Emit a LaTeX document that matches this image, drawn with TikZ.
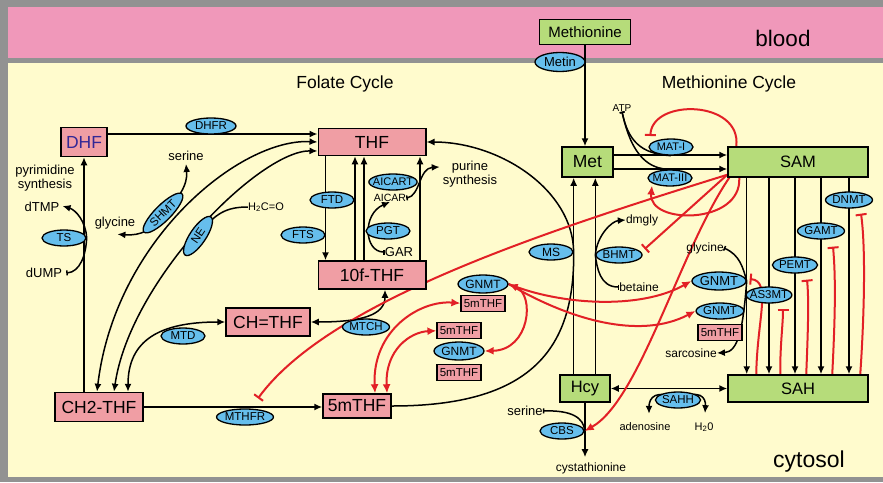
\documentclass[tikz,border=0pt]{standalone}
\usepackage{fontspec}
\setmainfont{Liberation Sans}
\usepackage{tikz}
\usetikzlibrary{positioning,shapes,arrows.meta,calc}
\definecolor{bloodpink}{RGB}{240,152,186}
\definecolor{cytoyellow}{RGB}{255,251,205}
\definecolor{framegray}{RGB}{146,146,146}
\definecolor{folpink}{RGB}{240,158,164}
\definecolor{metgreen}{RGB}{182,220,122}
\definecolor{enzblue}{RGB}{102,190,236}
\definecolor{inhred}{RGB}{226,32,38}
\definecolor{dhfblue}{RGB}{50,40,150}
\newcommand\fsz[1]{\fontsize{#1}{#1}\selectfont}
\pgfdeclarelayer{bg}
\pgfdeclarelayer{links}
\pgfsetlayers{bg,links,main}

\begin{document}
\begin{tikzpicture}[x=1pt,y=-1pt,
    folate/.style={rectangle,fill=folpink,draw=black,line width=1.5pt,font=\fsz{17.5},inner sep=0pt},
    methcyc/.style={rectangle,fill=metgreen,draw=black,line width=1.5pt,font=\fsz{16.5},inner sep=0pt},
    small5m/.style={rectangle,fill=folpink,draw=black,line width=1.2pt,font=\fsz{11.5},inner sep=0pt,minimum width=44pt,minimum height=16pt},
    enzyme/.style={ellipse,fill=enzblue,draw=black,line width=1.3pt,font=\fsz{11.5},inner xsep=0pt,inner ysep=1pt,minimum width=44pt,minimum height=16pt},
    metab/.style={font=\fsz{13},inner sep=0pt},
    heading/.style={font=\fsz{17.5},inner sep=0pt},
    arrow/.style={-{Latex[length=8pt,width=7pt]},line width=1.5pt},
    twoway/.style={{Latex[length=8pt,width=7pt]}-{Latex[length=8pt,width=7pt]},line width=1.5pt},
    feed/.style={{Bar[width=5pt]}-{Latex[length=8pt,width=7pt]},line width=1.5pt},
    feedline/.style={{Bar[width=5pt]}-,line width=1.5pt},
    redarrow/.style={-{Latex[length=9pt,width=8pt]},inhred,line width=2pt},
    redtwo/.style={{Latex[length=9pt,width=8pt]}-{Latex[length=9pt,width=8pt]},inhred,line width=2pt},
    inhibit/.style={-{Bar[width=11pt]},inhred,line width=2pt}
    ]
    \begin{pgfonlayer}{bg}
      \fill[framegray] (0,0) rectangle (883,482);
      \fill[bloodpink] (8,7) rectangle (883,58);
      \fill[cytoyellow] (8,63) rectangle (883,477);
    \end{pgfonlayer}
    \useasboundingbox (0,0) rectangle (883,482);

    \node[font=\fsz{22.5}] (blood) at (783,38) {blood};
    \node[heading] (folcycle) at (345,84) {Folate Cycle};
    \node[heading] (metcycle) at (729,84) {Methionine Cycle};
    \node[font=\fsz{23}] (cytosol) at (809,462) {cytosol};

    % folate cycle
    \node[folate,minimum width=46pt,minimum height=29pt,text=dhfblue] (dhf) at (84,142) {DHF};
    \node[folate,minimum width=107.5pt,minimum height=27pt] (thf) at (372,142) {THF};
    \node[folate,minimum width=107.5pt,minimum height=28pt] (tenf) at (372,275) {10f-THF};
    \node[folate,minimum width=84pt,minimum height=28pt] (chthf) at (268,322) {CH=THF};
    \node[folate,minimum width=88pt,minimum height=29pt] (chtwo) at (99,407) {CH2-THF};
    \node[folate,minimum width=68pt,minimum height=24pt] (fivem) at (357,406) {5mTHF};

    \node[metab,align=center] (pyrim) at (45,178) {pyrimidine\\[1pt]synthesis};
    \node[metab] (dtmp) at (42,207) {dTMP};
    \node[metab] (dump) at (44,273) {dUMP};
    \node[metab] (serA) at (186,156) {serine};
    \node[metab] (glyA) at (115,223) {glycine};
    \node[metab,font=\fsz{11}] (formald) at (266,207) {H\textsubscript{2}C=O};
    \node[metab,align=center] (purine) at (470,174) {purine\\[1pt]synthesis};
    \node[metab,font=\fsz{10.5}] (aicar) at (390,198) {AICAR};
    \node[metab] (gar) at (399,252) {GAR};

    \node[enzyme,minimum width=50pt] (dhfr) at (211,126) {DHFR};
    \node[enzyme] (ts) at (64,238) {TS};
    \node[enzyme,minimum width=54pt,rotate=45] (shmt) at (163,213) {SHMT};
    \node[enzyme,minimum width=46pt,rotate=56] (ne) at (198,236) {NE};
    \node[enzyme] (ftd) at (332,200) {FTD};
    \node[enzyme] (fts) at (303,235) {FTS};
    \node[enzyme,font=\fsz{11},inner xsep=-3pt] (aicart) at (393,182) {AICART};
    \node[enzyme] (pgt) at (388,231) {PGT};
    \node[enzyme] (mtd) at (183,336) {MTD};
    \node[enzyme] (mtch) at (366,327) {MTCH};
    \node[enzyme] (mthfr) at (245,417) {MTHFR};

    \node[enzyme,minimum height=18pt,font=\fsz{12}] (gnmtA) at (483,284) {GNMT};
    \node[small5m,below=1pt of gnmtA] (fivemA) {5mTHF};
    \node[enzyme,minimum height=18pt,font=\fsz{12}] (gnmtB) at (459,351) {GNMT};
    \node[small5m,above=2pt of gnmtB] (fivemB) {5mTHF};
    \node[small5m,below=3pt of gnmtB] (fivemC) {5mTHF};

    % methionine cycle
    \node[methcyc,font=\fsz{15},minimum width=91pt,minimum height=25pt] (methionine) at (585,32) {Methionine};
    \node[enzyme,font=\fsz{13},minimum width=50pt,minimum height=19pt] (metin) at (560,62) {Metin};
    \node[methcyc,font=\fsz{17.5},minimum width=51pt,minimum height=30pt] (met) at (587.5,162) {Met};
    \node[methcyc,minimum width=140pt,minimum height=30pt] (sam) at (798,162) {SAM};
    \node[methcyc,minimum width=50pt,minimum height=27pt] (hcy) at (585,388.5) {Hcy};
    \node[methcyc,minimum width=140pt,minimum height=27pt] (sah) at (798,388.5) {SAH};

    \node[metab,font=\fsz{10}] (atp) at (622,108) {ATP};
    \node[enzyme,font=\fsz{11}] (matone) at (671,147) {MAT-I};
    \node[enzyme,font=\fsz{11},inner xsep=-2pt] (matthree) at (670,178) {MAT-III};
    \node[enzyme,font=\fsz{12}] (ms) at (551,252) {MS};
    \node[enzyme] (bhmt) at (619,255) {BHMT};
    \node[metab,font=\fsz{12}] (dmgly) at (642,220) {dmgly};
    \node[metab,font=\fsz{12}] (betaine) at (639,287) {betaine};
    \node[metab,font=\fsz{12}] (glyB) at (705,248) {glycine};
    \node[enzyme,font=\fsz{13},minimum width=48pt,minimum height=18pt] (gnmtR) at (719,281) {GNMT};
    \node[enzyme] (gnmtS) at (720,311) {GNMT};
    \node[small5m,below=4pt of gnmtS] (fivemD) {5mTHF};
    \node[metab,font=\fsz{12}] (sarcosine) at (691,353) {sarcosine};
    \node[enzyme,inner xsep=-3pt] (as3mt) at (769,295) {AS3MT};
    \node[enzyme] (pemt) at (795,265) {PEMT};
    \node[enzyme] (gamt) at (821,231) {GAMT};
    \node[enzyme] (dnmt) at (849,200) {DNMT};
    \node[enzyme] (sahh) at (678,400) {SAHH};
    \node[metab,font=\fsz{11}] (adenosine) at (645,427) {adenosine};
    \node[metab,font=\fsz{11}] (water) at (704,427) {H\textsubscript{2}0};
    \node[enzyme] (cbs) at (562,431) {CBS};
    \node[metab] (serB) at (525,411) {serine};
    \node[metab,font=\fsz{12}] (cystath) at (591,468) {cystathionine};

    \begin{pgfonlayer}{links}
    \draw[arrow] ($(dhf.east)+(0,-8)$) -- ($(thf.west)+(0,-8)$);
    \draw[arrow] (chtwo.north -| dhf.south) -- (dhf.south);
    \draw[feed] ($(dump.east)+(4,0)$) .. controls (80,272) and (86,255) .. (ts.east) .. controls (86,222) and (76,210) .. ($(dtmp.east)+(3,-1)$);

    \draw[twoway] (thf.west) .. controls (240,138) and (115,240) .. ($(chtwo.north)+(-2,0)$);
    \draw[twoway] ($(thf.west)+(0,9)$) .. controls (260,150) and (130,280) .. ($(chtwo.north)+(15,0)$);
    \draw[arrow] (shmt.center) .. controls (178,200) and (188,185) .. ($(serA.south)+(0,3)$);
    \draw[arrow] (shmt.center) .. controls (155,230) and (140,236) .. ($(glyA.south east)+(-18,5)$);
    \draw[line width=1.5pt] (formald.west) .. controls (228,207) and (215,212) .. (ne.center);

    \draw[arrow] ($(thf.south west)+(8,0)$) -- ($(tenf.north west)+(8,0)$);
    \draw[arrow] ($(tenf.north west)+(37.5,0)$) -- ($(thf.south west)+(37.5,0)$);
    \draw[arrow] ($(tenf.north west)+(46.5,0)$) -- ($(thf.south west)+(46.5,0)$);
    \draw[arrow] ($(tenf.north east)+(-6.5,0)$) -- ($(thf.south east)+(-6.5,0)$);
    \draw[feed] (gar.west) .. controls (364,252) and (362,214) .. (aicar.south);
    \draw[feed] (aicar.east) .. controls (420,196) and (419,168) .. ($(purine.west)+(-3,-7)$);

    \draw[twoway] ($(chtwo.north)+(29,0)$) .. controls (128,340) and (160,322) .. (chthf.west);
    \draw[twoway] ($(tenf.south)+(13,0)$) .. controls (385,315) and (362,322) .. (chthf.east);
    \draw[arrow] (chtwo.east) -- (chtwo.east -| fivem.west);
    \draw[arrow] (fivem.east) .. controls (530,406) and (575,350) .. (ms.east) .. controls (573,190) and (500,142) .. (thf.east);

    \draw[arrow] (methionine.south) -- (methionine.south |- met.north);
    \draw[arrow] ($(met.east)+(0,-7)$) -- ($(sam.west)+(0,-7)$);
    \draw[arrow] ($(met.east)+(0,7)$) -- ($(sam.west)+(0,7)$);
    \draw[feedline] (atp.south) .. controls (628,140) and (640,154) .. (matone.south);
    \draw[feedline] (atp.south) .. controls (632,158) and (650,169) .. (matthree.north);
    \draw[arrow] (hcy.north -| ms.east) -- (met.south -| ms.east);
    \draw[arrow] (hcy.north -| bhmt.west) -- (met.south -| bhmt.west);
    \draw[feed] (betaine.west) .. controls (600,287) and (597,268) .. (bhmt.west) .. controls (597,235) and (612,221) .. (dmgly.west);

    \draw[arrow] (sam.south -| gnmtR.east) -- (sah.north -| gnmtR.east);
    \draw[arrow] (sam.south -| as3mt) -- (sah.north -| as3mt);
    \draw[arrow] (sam.south -| pemt) -- (sah.north -| pemt);
    \draw[arrow] (sam.south -| gamt) -- (sah.north -| gamt);
    \draw[arrow] (sam.south -| dnmt) -- (sah.north -| dnmt);
    \draw[feed] (glyB.east) .. controls (740,255) and (743,268) .. (gnmtR.east) .. controls (743,330) and (738,352) .. (sarcosine.east);

    \draw[twoway] (hcy.east) -- (sah.west);
    \draw[arrow] (sahh.center) .. controls (656,388) and (649,398) .. ($(adenosine.north)+(4,-9)$);
    \draw[arrow] (sahh.center) .. controls (700,388) and (706,398) .. ($(water.north)+(1,-9)$);
    \draw[feedline] (serB.east) .. controls (572,410) and (584,418) .. (cbs.east);
    \draw[arrow] (hcy.south) -- ($(hcy.south |- cystath.north)+(0,-5)$);

    % SAM and SAH regulation
    \draw[inhibit] ($(sam.north west)+(9,0)$) .. controls (742,100) and (652,98) .. ($(matone.west)+(2,-11)$);
    \draw[redarrow] ($(sam.south west)+(12,0)$) .. controls (742,225) and (648,225) .. ($(matthree.south)+(-18,-1)$);
    \draw[inhibit] ($(sam.south west)+(0,-3)$) .. controls (550,230) and (330,300) .. ($(mthfr.north)+(13,-10)$);
    \draw[inhibit] ($(sam.south west)+(0,-3)$) -- ($(bhmt.east)+(2,-6)$);
    \draw[redarrow] ($(sam.south west)+(2,0)$) .. controls (680,250) and (640,400) .. (cbs.east);

    \draw[redtwo] ($(fivem.north)+(18,0)$) .. controls (372,330) and (420,300) .. (fivemA.west);
    \draw[redtwo] ($(fivem.north)+(30,0)$) .. controls (385,350) and (410,332) .. (fivemB.west);
    \draw[redtwo] (gnmtA.east) .. controls (535,295) and (530,350) .. (gnmtB.east);
    \draw[redarrow] (gnmtA.east) .. controls (560,305) and (640,310) .. (gnmtR.west);
    \draw[redarrow] (gnmtA.east) .. controls (570,320) and (640,340) .. (gnmtS.west);

    \draw[inhibit] ($(sah.north west)+(29,0)$) .. controls (757,320) and (772,281) .. ($(gnmtR.east)+(3,-2)$);
    \draw[inhibit] ($(sah.north west)+(53,0)$) .. controls (780,345) and (783,325) .. ($(as3mt.south)+(14,5)$);
    \draw[inhibit] ($(sah.north west)+(79,0)$) .. controls (808,330) and (809,300) .. ($(pemt.south)+(12,6)$);
    \draw[inhibit] ($(sah.north west)+(105,0)$) .. controls (835,320) and (836,280) .. ($(gamt.south)+(12,7)$);
    \draw[inhibit] ($(sah.north west)+(133,0)$) .. controls (864,320) and (866,250) .. ($(dnmt.south)+(12,5)$);
    \end{pgfonlayer}

\end{tikzpicture}
\end{document}
